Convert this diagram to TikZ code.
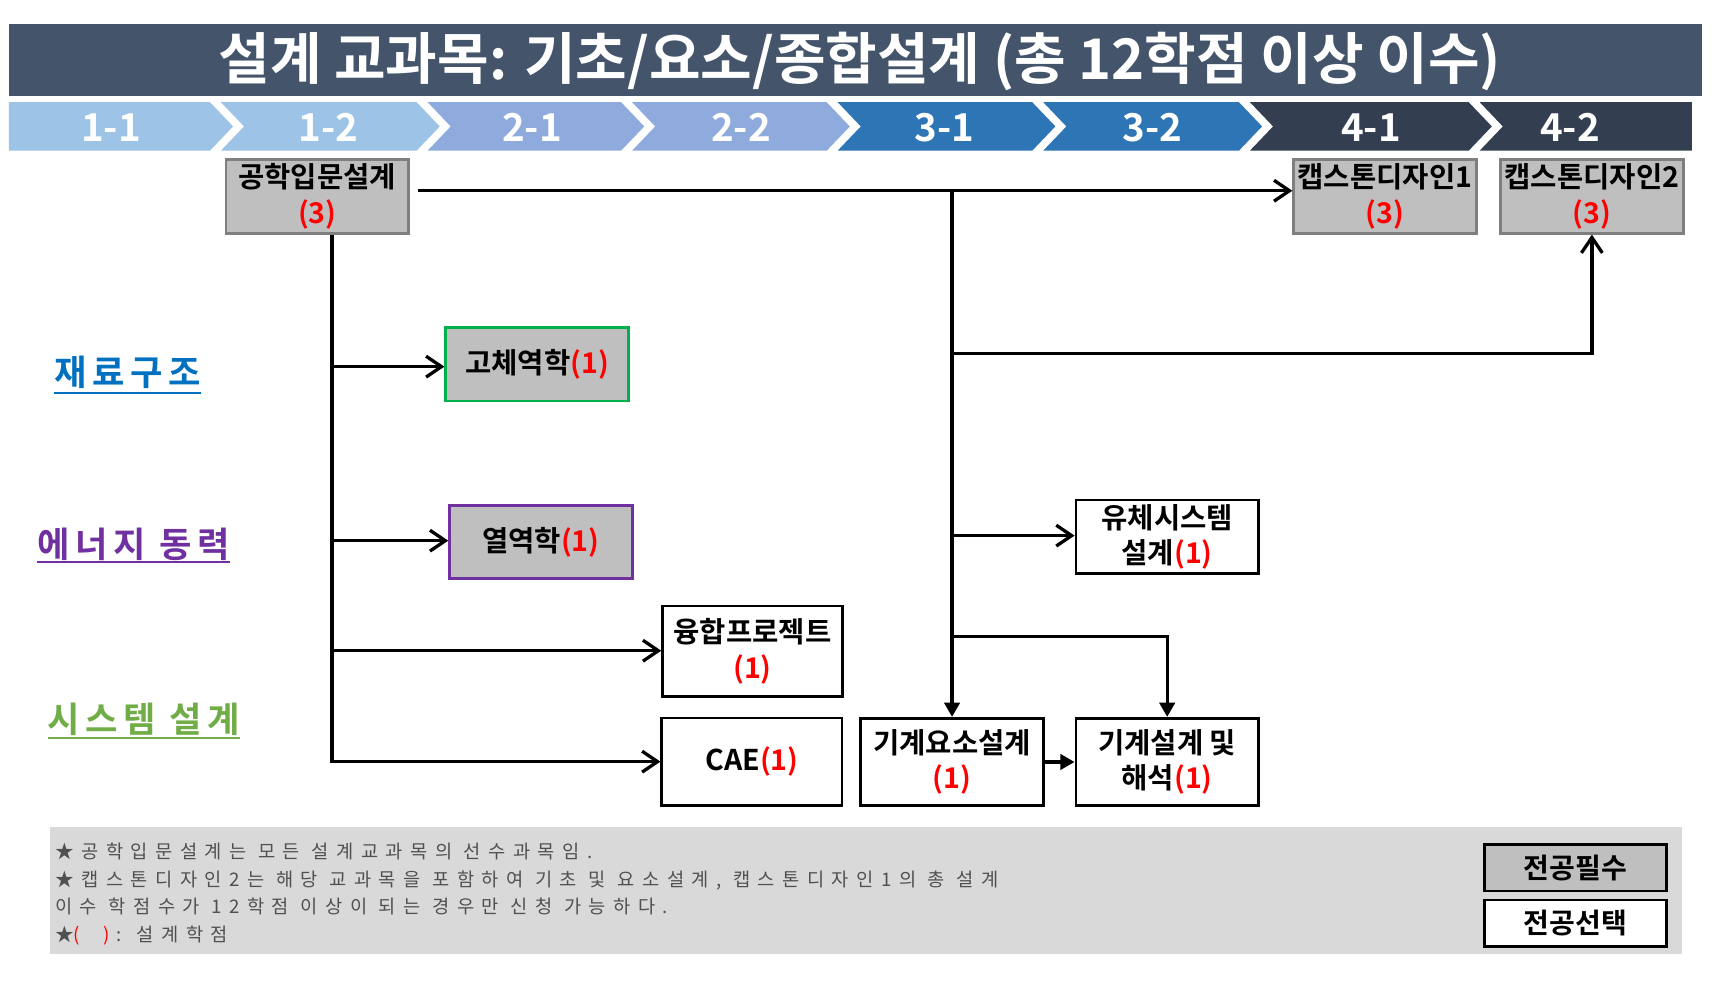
\documentclass[tikz,border=0pt]{standalone}
\usepackage{fontspec}
\setmainfont{Noto Sans CJK KR}[BoldFont={Noto Sans CJK KR Bold}]
\newfontfamily\notefont{Noto Sans CJK KR}[LetterSpace=40]
\newfontfamily\lblfont{Noto Sans CJK KR Bold}[LetterSpace=16]
\usetikzlibrary{arrows.meta,calc}
\definecolor{titlebg}{HTML}{44546A}
\definecolor{semA}{HTML}{9DC3E6}
\definecolor{semB}{HTML}{8FAADC}
\definecolor{semC}{HTML}{2E75B6}
\definecolor{semD}{HTML}{333F50}
\definecolor{boxgray}{HTML}{BFBFBF}
\definecolor{bordergray}{HTML}{7F7F7F}
\definecolor{notebg}{HTML}{D9D9D9}
\definecolor{notetxt}{HTML}{505050}
\definecolor{lblblue}{HTML}{0070C0}
\definecolor{lblpurple}{HTML}{7030A0}
\definecolor{lblgreen}{HTML}{70AD47}
\definecolor{boxgreen}{HTML}{00B050}
\definecolor{pureRed}{HTML}{FF0000}
\tikzset{
  semlabel/.style={text=white, font=\fontsize{35}{40}\selectfont\bfseries, anchor=base, inner sep=0pt},
  course/.style={draw=black, line width=2.5pt, fill=white, align=center,
    font=\fontsize{26}{32}\selectfont\bfseries, inner sep=0pt,
    minimum width=166pt, minimum height=67pt},
  reqbox/.style={course, fill=boxgray},
  capbox/.style={course, fill=boxgray, draw=bordergray, line width=2.5pt},
  trackl/.style={font=\lblfont\fontsize{32}{36}\selectfont, anchor=base, inner sep=0pt},
  ulline/.style={line width=2pt},
  conn/.style={draw=black, line width=3pt},
  barb/.style={-{Straight Barb[length=14pt,width=19pt]}},
  tri/.style={-{Triangle[length=13pt,width=14pt]}},
  noteline/.style={anchor=base west, inner sep=0pt, text=notetxt, font=\notefont\fontsize{17}{18}\selectfont},
  legendbox/.style={draw=black, line width=2.5pt, minimum width=166pt, minimum height=42.5pt,
    inner sep=0pt, font=\fontsize{25.5}{28}\selectfont\bfseries}
}
\newcommand{\rd}[1]{\textcolor{pureRed}{#1}}
\begin{document}
\begin{tikzpicture}[x=1pt,y=-1pt]
\useasboundingbox (0,0) rectangle (1560,895);
\fill[white] (0,0) rectangle (1560,895);
% title bar
\fill[titlebg] (8,21.8) rectangle (1548,87.3);
\node[anchor=base, text=white, inner sep=0pt, font=\fontsize{51}{58}\selectfont\bfseries] (title) at (782,72) {설계 교과목: 기초/요소/종합설계 (총 12학점 이상 이수)};
% semester chevrons
\fill[semA] (8,93) -- (191,93) -- (212,115) -- (191,137) -- (8,137) -- cycle;
\fill[semA] (201,93) -- (379,93) -- (400,115) -- (379,137) -- (201,137) -- (222,115) -- cycle;
\fill[semB] (389,93) -- (565,93) -- (586,115) -- (565,137) -- (389,137) -- (410,115) -- cycle;
\fill[semB] (575,93) -- (752,93) -- (773,115) -- (752,137) -- (575,137) -- (596,115) -- cycle;
\fill[semC] (762,93) -- (939,93) -- (960,115) -- (939,137) -- (762,137) -- (783,115) -- cycle;
\fill[semC] (949,93) -- (1127,93) -- (1148,115) -- (1127,137) -- (949,137) -- (970,115) -- cycle;
\fill[semD] (1137,93) -- (1336,93) -- (1357,115) -- (1336,137) -- (1137,137) -- (1158,115) -- cycle;
\fill[semD] (1346,93) -- (1539,93) -- (1539,137) -- (1346,137) -- (1367,115) -- cycle;
\node[semlabel] (s11) at (101,128.5) {1-1};
\node[semlabel] (s12) at (299,128.5) {1-2};
\node[semlabel] (s21) at (484,128.5) {2-1};
\node[semlabel] (s22) at (674,128.5) {2-2};
\node[semlabel] (s31) at (859,128.5) {3-1};
\node[semlabel] (s32) at (1048,128.5) {3-2};
\node[semlabel] (s41) at (1247,128.5) {4-1};
\node[semlabel] (s42) at (1428,128.5) {4-2};
% track labels
\node[trackl, text=lblblue] (tr1) at (116,351) {재료구조};
\draw[ulline, lblblue] ([yshift=-6.5pt]tr1.base west) -- ([yshift=-6.5pt]tr1.base east);
\node[trackl, text=lblpurple] (tr2) at (121.4,507.5) {에너지 동력};
\draw[ulline, lblpurple] ([yshift=-4pt]tr2.base west) -- ([yshift=-4pt]tr2.base east);
\node[trackl, text=lblgreen] (tr3) at (131,666) {시스템 설계};
\draw[ulline, lblgreen] ([yshift=-5pt]tr3.base west) -- ([yshift=-5pt]tr3.base east);
% course boxes
\node[capbox] (gong) at (288.6,178.6) {공학입문설계\\\rd{(3)}};
\node[capbox] (cap1) at (1259.8,178.6) {캡스톤디자인1\\\rd{(3)}};
\node[capbox] (cap2) at (1448,178.6) {캡스톤디자인2\\\rd{(3)}};
\node[reqbox, draw=boxgreen] (sol) at (488.5,331.3) {고체역학\rd{(1)}};
\node[reqbox, draw=lblpurple] (thermo) at (492,493) {열역학\rd{(1)}};
\node[course] (fluid) at (1061.7,488.2) {유체시스템\\설계\rd{(1)}};
\node[course, minimum width=163.5pt, minimum height=82.5pt] (fusion) at (684.5,592.5) {융합프로젝트\\\rd{(1)}};
\node[course, minimum width=164pt, minimum height=80pt] (cae) at (684,693) {CAE\rd{(1)}};
\node[course, minimum height=79.5pt] (mech) at (866,693.1) {기계요소설계\\\rd{(1)}};
\node[course, minimum height=79.5pt] (des) at (1061.7,693.1) {기계설계 및\\해석\rd{(1)}};
% connectors right side
\coordinate (h0) at (380,173.5);
\draw[conn, barb] (h0) -- (h0 -| cap1.west);
\coordinate (v0) at (866,173.5);
\draw[conn, tri] (v0) -- (mech.north);
\coordinate (v1) at (866,321.4);
\draw[conn, barb] (v1) -| (cap2.south);
\coordinate (v2) at (866,487.2);
\draw[conn, barb] (v2) -- (v2 -| fluid.west);
\coordinate (v3) at (866,579);
\draw[conn, tri] (v3) -| (des.north);
\draw[conn, tri] (mech.east) -- (des.west);
% connectors left side
\coordinate (a0) at ($(gong.south)+(13.4,0)$);
\coordinate (a1) at (302,333.5);
\coordinate (a2) at (302,491.8);
\coordinate (a3) at (302,591.9);
\coordinate (a4) at (302,692.8);
\draw[conn, barb] (a0) -- (a4) -- (a4 -| cae.west);
\draw[conn, barb] (a1) -- (a1 -| sol.west);
\draw[conn, barb] (a2) -- (a2 -| thermo.west);
\draw[conn, barb] (a3) -- (a3 -| fusion.west);
% notes
\fill[notebg] (45.5,752) rectangle (1530.2,867.8);
\node[noteline] (n1) at (50,781) {★공학입문설계는 모든 설계교과목의 선수과목임.};
\node[noteline] (n2) at (50,806) {★캡스톤디자인2는 해당 교과목을 포함하여 기초 및 요소설계, 캡스톤디자인1의 총 설계};
\node[noteline] (n3) at (50,831) {이수 학점수가 12학점 이상이 되는 경우만 신청 가능하다.};
\node[noteline] (n4) at (50,856) {★\textcolor{pureRed}{(\hspace{21pt})}\hspace{6pt}: 설계학점};
\node[legendbox, fill=boxgray] (lg1) at (1433,789.2) {전공필수};
\node[legendbox, fill=white] (lg2) at (1433,839.8) {전공선택};
\end{tikzpicture}
\end{document}
